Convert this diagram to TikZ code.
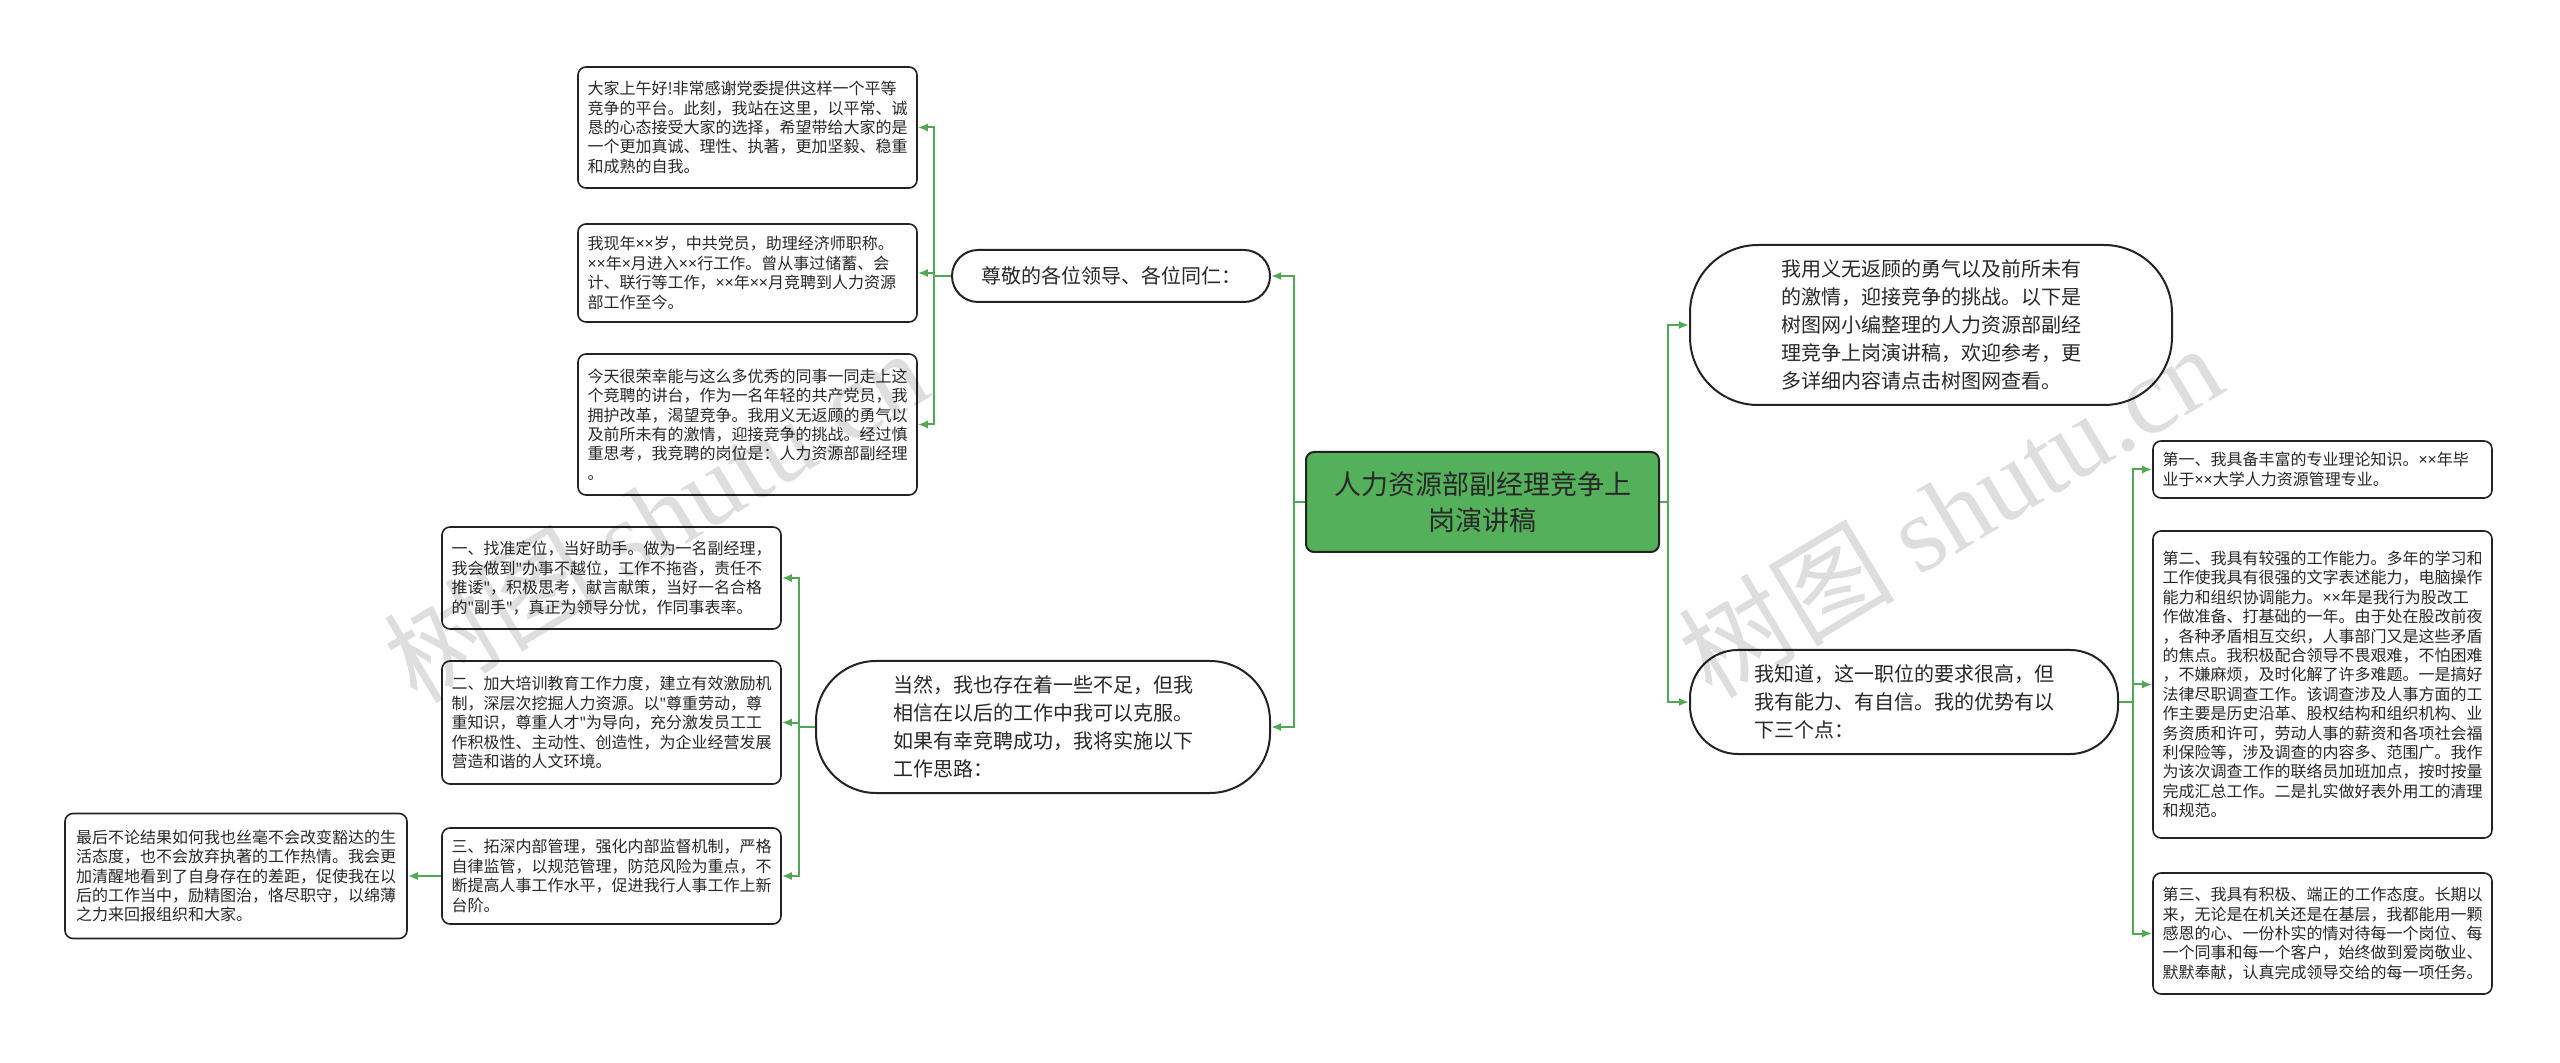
\documentclass[tikz,border=0pt]{standalone}
\usepackage{fontspec}
\setmainfont{Noto Sans CJK SC}
\newfontfamily\wmserif{Liberation Serif}
\newfontfamily\latinf{Noto Sans}
\newcommand\mytimes{{\latinf ×}}
\newcommand\mydq{{\latinf "}}
\usetikzlibrary{arrows.meta}
\definecolor{lineg}{RGB}{80,168,84}
\definecolor{rootg}{RGB}{84,176,90}
\definecolor{bord}{RGB}{35,35,35}
\definecolor{txt}{RGB}{40,40,40}
\tikzset{
  sbox/.style={draw=bord, line width=0.8pt, fill=white, rounded corners=4pt, align=left,
    text width=160pt, inner xsep=4.75pt, inner ysep=0pt, text=txt,
    font=\fontsize{8}{9.7}\selectfont, minimum width=169.5pt},
  pill/.style={draw=bord, line width=1pt, fill=white, align=left, inner sep=0pt,
    text=txt, font=\fontsize{10}{14}\selectfont},
  rootbox/.style={draw=bord, line width=1pt, fill=rootg, rounded corners=4pt, align=center,
    inner sep=0pt, text=txt, font=\fontsize{13.5}{18}\selectfont,
    minimum width=176.5pt, minimum height=50pt},
  conn/.style={draw=lineg, line width=1pt, -{Latex[length=5pt,width=4pt]}},
  wmark/.style={text=black, text opacity=0.13, rotate=31, font=\fontsize{54}{54}\selectfont},
}
\begin{document}
\begin{tikzpicture}[x=0.5pt,y=-0.5pt]
\useasboundingbox (0,0) rectangle (2560,1063);
\fill[white] (0,0) rectangle (2560,1063);

% root
\node[rootbox] (root) at (1482.5,502) {人力资源部副经理竞争上\\岗演讲稿};

% left first branch
\node[pill, rounded corners=13pt, minimum width=159pt, minimum height=26pt] (zj) at (1111,276)
  {尊敬的各位领导、各位同仁：};
\node[sbox, minimum height=60.5pt] (L1a) at (747.5,127.5)
  {大家上午好!非常感谢党委提供这样一个平等\\
   竞争的平台。此刻，我站在这里，以平常、诚\\
   恳的心态接受大家的选择，希望带给大家的是\\
   一个更加真诚、理性、执著，更加坚毅、稳重\\
   和成熟的自我。};
\node[sbox, minimum height=49pt] (L1b) at (747.5,273)
  {我现年\mytimes\mytimes 岁，中共党员，助理经济师职称。\\
   \mytimes\mytimes 年\mytimes 月进入\mytimes\mytimes 行工作。曾从事过储蓄、会\\
   计、联行等工作，\mytimes\mytimes 年\mytimes\mytimes 月竞聘到人力资源\\
   部工作至今。};
\node[sbox, minimum height=70.5pt] (L1c) at (747.5,424.5)
  {今天很荣幸能与这么多优秀的同事一同走上这\\
   个竞聘的讲台，作为一名年轻的共产党员，我\\
   拥护改革，渴望竞争。我用义无返顾的勇气以\\
   及前所未有的激情，迎接竞争的挑战。经过慎\\
   重思考，我竞聘的岗位是：人力资源部副经理\\
   。};

% left second branch
\node[pill, rounded corners=30pt, minimum width=227pt, minimum height=66pt] (dr) at (1043,727)
  {当然，我也存在着一些不足，但我\\
   相信在以后的工作中我可以克服。\\
   如果有幸竞聘成功，我将实施以下\\
   工作思路：};
\node[sbox, minimum height=51pt] (L2a) at (611.5,578)
  {一、找准定位，当好助手。做为一名副经理，\\
   我会做到\mydq 办事不越位，工作不拖沓，责任不\\
   推诿\mydq ，积极思考，献言献策，当好一名合格\\
   的\mydq 副手\mydq ，真正为领导分忧，作同事表率。};
\node[sbox, minimum height=61.5pt] (L2b) at (611.5,722.5)
  {二、加大培训教育工作力度，建立有效激励机\\
   制，深层次挖掘人力资源。以\mydq 尊重劳动，尊\\
   重知识，尊重人才\mydq 为导向，充分激发员工工\\
   作积极性、主动性、创造性，为企业经营发展\\
   营造和谐的人文环境。};
\node[sbox, minimum height=48pt] (L2c) at (611.5,876)
  {三、拓深内部管理，强化内部监督机制，严格\\
   自律监管，以规范管理，防范风险为重点，不\\
   断提高人事工作水平，促进我行人事工作上新\\
   台阶。};
\node[sbox, minimum height=62.5pt, minimum width=171pt] (L3) at (236,876)
  {最后不论结果如何我也丝毫不会改变豁达的生\\
   活态度，也不会放弃执著的工作热情。我会更\\
   加清醒地看到了自身存在的差距，促使我在以\\
   后的工作当中，励精图治，恪尽职守，以绵薄\\
   之力来回报组织和大家。};

% right branches
\node[pill, rounded corners=34pt, minimum width=241pt, minimum height=80pt] (rt) at (1931,325)
  {我用义无返顾的勇气以及前所未有\\
   的激情，迎接竞争的挑战。以下是\\
   树图网小编整理的人力资源部副经\\
   理竞争上岗演讲稿，欢迎参考，更\\
   多详细内容请点击树图网查看。};
\node[pill, rounded corners=24pt, minimum width=214pt, minimum height=52pt] (zd) at (1904,702)
  {我知道，这一职位的要求很高，但\\
   我有能力、有自信。我的优势有以\\
   下三个点：};
\node[sbox, minimum height=28.5pt] (R1) at (2322.5,469.5)
  {第一、我具备丰富的专业理论知识。\mytimes\mytimes 年毕\\
   业于\mytimes\mytimes 大学人力资源管理专业。};
\node[sbox, minimum height=153.5pt] (R2) at (2322.5,684.5)
  {第二、我具有较强的工作能力。多年的学习和\\
   工作使我具有很强的文字表述能力，电脑操作\\
   能力和组织协调能力。\mytimes\mytimes 年是我行为股改工\\
   作做准备、打基础的一年。由于处在股改前夜\\
   ，各种矛盾相互交织，人事部门又是这些矛盾\\
   的焦点。我积极配合领导不畏艰难，不怕困难\\
   ，不嫌麻烦，及时化解了许多难题。一是搞好\\
   法律尽职调查工作。该调查涉及人事方面的工\\
   作主要是历史沿革、股权结构和组织机构、业\\
   务资质和许可，劳动人事的薪资和各项社会福\\
   利保险等，涉及调查的内容多、范围广。我作\\
   为该次调查工作的联络员加班加点，按时按量\\
   完成汇总工作。二是扎实做好表外用工的清理\\
   和规范。};
\node[sbox, minimum height=60.5pt] (R3) at (2322.5,933.5)
  {第三、我具有积极、端正的工作态度。长期以\\
   来，无论是在机关还是在基层，我都能用一颗\\
   感恩的心、一份朴实的情对待每一个岗位、每\\
   一个同事和每一个客户，始终做到爱岗敬业、\\
   默默奉献，认真完成领导交给的每一项任务。};

% connectors
\draw[conn] (root.west) -- ++(-11,0) |- (zj.east);
\draw[conn] (root.west) -- ++(-11,0) |- (dr.east);
\draw[conn] (zj.west) -- ++(-17,0) |- (L1a.east);
\draw[conn] (zj.west) -- ++(-17,0) |- (L1b.east);
\draw[conn] (zj.west) -- ++(-17,0) |- (L1c.east);
\draw[conn] (dr.west) -- ++(-16,0) |- (L2a.east);
\draw[conn] (dr.west) -- ++(-16,0) |- (L2b.east);
\draw[conn] (dr.west) -- ++(-16,0) |- (L2c.east);
\draw[conn] (L2c.west) -- (L3.east);
\draw[conn] (root.east) -- ++(8,0) |- (rt.west);
\draw[conn] (root.east) -- ++(8,0) |- (zd.west);
\draw[conn] (zd.east) -- ++(14,0) |- (R1.west);
\draw[conn] (zd.east) -- ++(14,0) |- (R2.west);
\draw[conn] (zd.east) -- ++(14,0) |- (R3.west);

% watermarks
\node[wmark] (wm1) at (655,515) {树图 {\wmserif shutu.cn}};
\node[wmark] (wm2) at (1950,510) {树图 {\wmserif shutu.cn}};
\end{tikzpicture}
\end{document}
